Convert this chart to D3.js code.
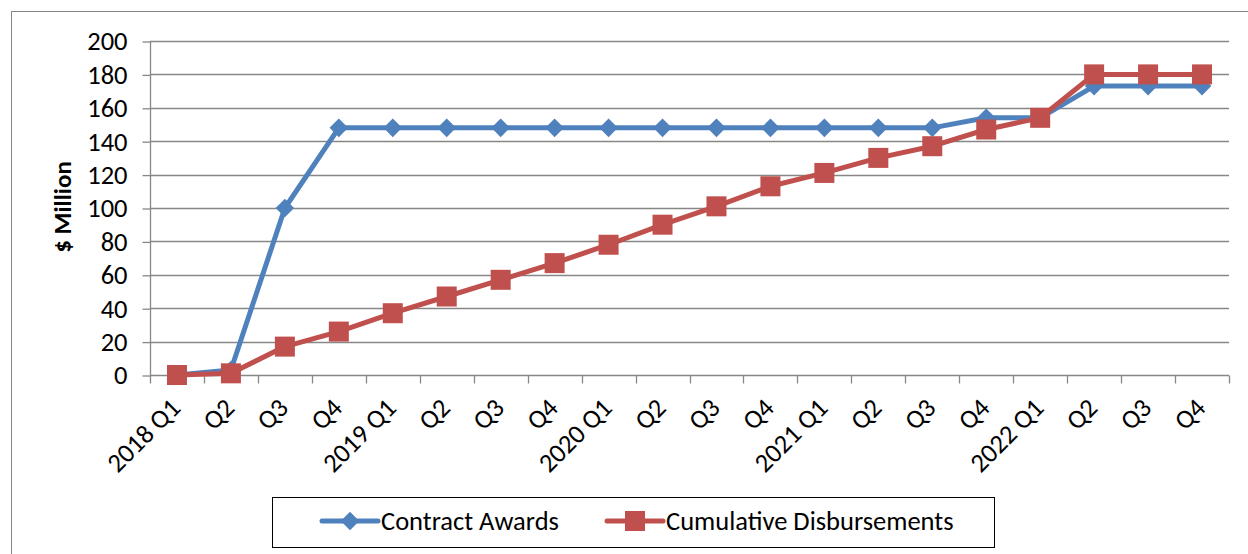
<!DOCTYPE html>
<html>
<head>
<meta charset="utf-8">
<script src="https://cdn.jsdelivr.net/npm/d3@7"></script>
<style>
  body { margin: 0; background: #fff; }
  svg { display: block; font-family: Carlito, Calibri, Lato, "Open Sans", sans-serif; }
</style>
</head>
<body>
<div id="chart"></div>
<script>
// chart data
var quarters = ["2018 Q1", "Q2", "Q3", "Q4", "2019 Q1", "Q2", "Q3", "Q4", "2020 Q1", "Q2",
                "Q3", "Q4", "2021 Q1", "Q2", "Q3", "Q4", "2022 Q1", "Q2", "Q3", "Q4"];
var contractAwards = [0, 3, 100, 148, 148, 148, 148, 148, 148, 148,
                      148, 148, 148, 148, 148, 154, 154, 173, 173, 173];
var cumulativeDisbursements = [0, 1, 17, 26, 37, 47, 57, 67, 78, 90,
                               101, 113, 121, 130, 137, 147, 154, 180, 180, 180];
var yTicks = [0, 20, 40, 60, 80, 100, 120, 140, 160, 180, 200];
var seriesNames = ["Contract Awards", "Cumulative Disbursements"];

var W = 1248, H = 554;
var pLeft = 150, pRight = 1229, pTop = 41, pBottom = 375;
var blue = "#4F81BD", red = "#C0504D", grid = "#878787";
var fs = 26.5;

var svg = d3.select("#chart").append("svg").attr("width", W).attr("height", H);

// outer chart frame
svg.append("rect").attr("x", 11.5).attr("y", 11.5).attr("width", 1260).attr("height", 600)
    .attr("fill", "none").attr("stroke", "#868686").attr("stroke-width", 1);

var x = d3.scaleBand().domain(d3.range(quarters.length)).range([pLeft, pRight]);
var y = d3.scaleLinear().domain([0, 200]).range([pBottom, pTop]);

// gridlines
svg.append("g").selectAll("line").data(yTicks.filter(function (d) { return d > 0; })).enter()
    .append("line")
    .attr("x1", pLeft).attr("x2", pRight)
    .attr("y1", function (d) { return Math.round(y(d)) + 0.5; })
    .attr("y2", function (d) { return Math.round(y(d)) + 0.5; })
    .attr("stroke", grid).attr("stroke-width", 1.3);

// y axis
var ya = svg.append("g").attr("transform", "translate(" + (pLeft + 0.5) + ",0.5)")
    .call(d3.axisLeft(y).tickValues(yTicks).tickSize(8).tickPadding(15));
ya.attr("font-family", null).attr("font-size", null);
ya.select(".domain").attr("stroke", grid).attr("stroke-width", 1.3).attr("d", "M0," + pTop + "V" + pBottom);
ya.selectAll(".tick line").attr("stroke", grid).attr("stroke-width", 1.3);
ya.selectAll(".tick text").attr("font-size", fs).attr("fill", "#000");

// x axis
var xa = svg.append("g").attr("transform", "translate(0," + (pBottom + 0.5) + ")");
xa.append("line").attr("x1", pLeft).attr("x2", pRight).attr("stroke", grid).attr("stroke-width", 1.3);
var bounds = d3.range(quarters.length + 1).map(function (i) { return pLeft + i * x.bandwidth(); });
xa.selectAll("line.tk").data(bounds).enter().append("line").attr("class", "tk")
    .attr("x1", function (d) { return Math.round(d) + 0.5; })
    .attr("x2", function (d) { return Math.round(d) + 0.5; })
    .attr("y1", 0).attr("y2", 8)
    .attr("stroke", grid).attr("stroke-width", 1.3);
xa.selectAll("text.lbl").data(quarters).enter().append("text").attr("class", "lbl")
    .attr("transform", function (d, i) {
        var cx = x(i) + x.bandwidth() / 2 + 5;
        return "translate(" + cx + ",34) rotate(-45)";
    })
    .attr("text-anchor", "end")
    .attr("font-size", fs).attr("fill", "#000").text(function (d) { return d; });

// y label
svg.append("text").attr("transform", "translate(71," + 207 + ") rotate(-90)")
    .attr("text-anchor", "middle").attr("font-size", 25).attr("font-weight", "bold")
    .text("$ Million");

var cx = function (d, i) { return x(i) + x.bandwidth() / 2; };
var line = d3.line().x(cx).y(function (d) { return y(d); });

// contract awards
svg.append("path").datum(contractAwards).attr("d", line)
    .attr("fill", "none").attr("stroke", blue).attr("stroke-width", 5).attr("stroke-linejoin", "round");
svg.append("g").selectAll("path").data(contractAwards).enter().append("path")
    .attr("d", d3.symbol().type(d3.symbolDiamond2).size(220))
    .attr("transform", function (d, i) { return "translate(" + cx(d, i) + "," + y(d) + ")"; })
    .attr("fill", blue);

// cumulative disbursements
svg.append("path").datum(cumulativeDisbursements).attr("d", line)
    .attr("fill", "none").attr("stroke", red).attr("stroke-width", 5).attr("stroke-linejoin", "round");
svg.append("g").selectAll("rect").data(cumulativeDisbursements).enter().append("rect")
    .attr("x", function (d, i) { return cx(d, i) - 10; })
    .attr("y", function (d) { return y(d) - 10; })
    .attr("width", 20).attr("height", 20).attr("fill", red);

// legend
var lg = svg.append("g");
lg.append("rect").attr("x", 272.5).attr("y", 497.5).attr("width", 722).attr("height", 50)
    .attr("fill", "#fff").attr("stroke", "#000").attr("stroke-width", 1);
var items = [{ name: seriesNames[0], color: blue, x0: 322, tx: 381 },
             { name: seriesNames[1], color: red, x0: 607, tx: 666 }];
items.forEach(function (it, k) {
    lg.append("line").attr("x1", it.x0).attr("x2", it.x0 + 56).attr("y1", 521).attr("y2", 521)
        .attr("stroke", it.color).attr("stroke-width", 5).attr("stroke-linecap", "round");
    if (k === 0) {
        lg.append("path").attr("d", d3.symbol().type(d3.symbolDiamond2).size(220))
            .attr("transform", "translate(" + (it.x0 + 28) + ",521)").attr("fill", it.color);
    } else {
        lg.append("rect").attr("x", it.x0 + 28 - 10).attr("y", 521 - 10).attr("width", 20).attr("height", 20)
            .attr("fill", it.color);
    }
    lg.append("text").attr("x", it.tx).attr("y", 521).attr("dy", "0.35em")
        .attr("font-size", 26.5).text(it.name);
});
</script>
</body>
</html>
